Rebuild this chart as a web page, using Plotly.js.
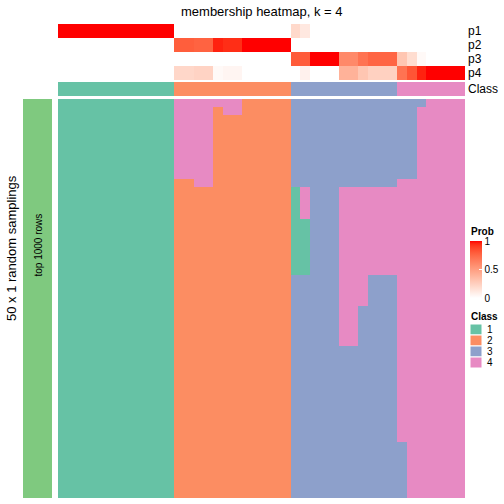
<!DOCTYPE html>
<html><head><meta charset="utf-8">
<script src="https://cdn.plot.ly/plotly-3.0.1.min.js"></script>
<style>html,body{margin:0;padding:0;background:#fff}#chart{width:504px;height:504px}</style>
</head><body><div id="chart"></div>
<script>
// ---------------- data ----------------
const title = 'membership heatmap, k = 4';
const rowTitle = '50 x 1 random samplings';
const rowGroup = 'top 1000 rows';
const probNames = ['p1', 'p2', 'p3', 'p4'];
const classLabels = ['1', '2', '3', '4'];
// per-sample membership probabilities (42 samples)
const p1 = [1,1,1,1,1,1,1,1,1,1,1,1, 0,0,0,0,0,0,0,0,0,0,0,0, 0.2,0.12,0,0,0,0,0,0,0,0,0, 0,0,0,0,0,0,0];
const p2 = [0,0,0,0,0,0,0,0,0,0,0,0, 0.79,0.79,0.77,0.77,0.96,0.94,0.94,1,1,1,1,1, 0,0,0,0,0,0,0,0,0,0,0, 0,0,0,0,0,0,0];
const p3 = [0,0,0,0,0,0,0,0,0,0,0,0, 0,0,0,0,0,0,0,0,0,0,0,0, 0.8,0.8,1,1,1,0.6,0.6,0.7,0.76,0.76,0.76, 0.3,0.18,0.03,0,0,0,0];
const p4 = [0,0,0,0,0,0,0,0,0,0,0,0, 0.21,0.21,0.23,0.23,0.03,0.05,0.05,0,0,0,0,0, 0,0.07,0,0,0,0.4,0.4,0.3,0.24,0.24,0.24, 0.7,0.82,0.96,1,1,1,1];
const sampleClass = [1,1,1,1,1,1,1,1,1,1,1,1, 2,2,2,2,2,2,2,2,2,2,2,2, 3,3,3,3,3,3,3,3,3,3,3, 4,4,4,4,4,4,4];
// class assigned in each of the 50 random samplings (rows) for each sample (columns)
const samplings = [
 '111111111111444444422222333333333333334444',
 '111111111111444424422222333333333333344444',
 '111111111111444422222222333333333333344444',
 '111111111111444422222222333333333333344444',
 '111111111111444422222222333333333333344444',
 '111111111111444422222222333333333333344444',
 '111111111111444422222222333333333333344444',
 '111111111111444422222222333333333333344444',
 '111111111111444422222222333333333333344444',
 '111111111111444422222222333333333333344444',
 '111111111111224422222222333333333334444444',
 '111111111111222222222222143334444444444444',
 '111111111111222222222222143334444444444444',
 '111111111111222222222222143334444444444444',
 '111111111111222222222222143334444444444444',
 '111111111111222222222222113334444444444444',
 '111111111111222222222222113334444444444444',
 '111111111111222222222222113334444444444444',
 '111111111111222222222222113334444444444444',
 '111111111111222222222222113334444444444444',
 '111111111111222222222222113334444444444444',
 '111111111111222222222222113334444444444444',
 '111111111111222222222222333334443334444444',
 '111111111111222222222222333334443334444444',
 '111111111111222222222222333334443334444444',
 '111111111111222222222222333334443334444444',
 '111111111111222222222222333334433334444444',
 '111111111111222222222222333334433334444444',
 '111111111111222222222222333334433334444444',
 '111111111111222222222222333334433334444444',
 '111111111111222222222222333334433334444444',
 '111111111111222222222222333333333334444444',
 '111111111111222222222222333333333334444444',
 '111111111111222222222222333333333334444444',
 '111111111111222222222222333333333334444444',
 '111111111111222222222222333333333334444444',
 '111111111111222222222222333333333334444444',
 '111111111111222222222222333333333334444444',
 '111111111111222222222222333333333334444444',
 '111111111111222222222222333333333334444444',
 '111111111111222222222222333333333334444444',
 '111111111111222222222222333333333334444444',
 '111111111111222222222222333333333334444444',
 '111111111111222222222222333333333333444444',
 '111111111111222222222222333333333333444444',
 '111111111111222222222222333333333333444444',
 '111111111111222222222222333333333333444444',
 '111111111111222222222222333333333333444444',
 '111111111111222222222222333333333333444444',
 '111111111111222222222222333333333333444444'
];

// ---------------- styling ----------------
const W = 504, H = 504;
const px = v => v / W, py = v => 1 - v / H;
const FONT = 'Liberation Sans, Arial, Helvetica, sans-serif';
const classColors = ['#66C2A5', '#FC8D62', '#8DA0CB', '#E78AC3'];
const groupColor = '#7FC97F';

// white -> red interpolated in CIE Lab (as ComplexHeatmap's colorRamp2)
function labToRgb(L, a, b) {
  const fy = (L + 16) / 116, fx = fy + a / 500, fz = fy - b / 200;
  const inv = t => t > 0.206893 ? t * t * t : (t - 16 / 116) / 7.787;
  const X = 0.95047 * inv(fx), Y = 1.0 * inv(fy), Z = 1.08883 * inv(fz);
  let r = 3.2406 * X - 1.5372 * Y - 0.4986 * Z;
  let g = -0.9689 * X + 1.8758 * Y + 0.0415 * Z;
  let bb = 0.0557 * X - 0.2040 * Y + 1.0570 * Z;
  const gam = c => { c = Math.min(1, Math.max(0, c)); return c <= 0.0031308 ? 12.92 * c : 1.055 * Math.pow(c, 1 / 2.4) - 0.055; };
  return 'rgb(' + [r, g, bb].map(c => Math.round(255 * gam(c))).join(',') + ')';
}
const redLab = [53.24, 80.09, 67.20];
const probScale = [];
for (let i = 0; i <= 20; i++) {
  const t = i / 20;
  probScale.push([t, labToRgb(100 + (redLab[0] - 100) * t, redLab[1] * t, redLab[2] * t)]);
}
const classScale = [];
classColors.forEach((c, i) => { classScale.push([i / 4, c]); classScale.push([(i + 1) / 4, c]); });

const nCol = sampleClass.length;
const cols = sampleClass.map((_, i) => i);
const mainZ = samplings.map(s => s.split('').map(Number));
const rows = mainZ.map((_, i) => i);

const traces = [
  { type: 'heatmap', x: cols, y: [0, 1, 2, 3], z: [p1, p2, p3, p4], xaxis: 'x', yaxis: 'y2',
    zmin: 0, zmax: 1, colorscale: probScale, hoverinfo: 'skip',
    colorbar: { x: px(470), xanchor: 'left', y: py(298), yanchor: 'bottom', len: 57, lenmode: 'pixels',
      thickness: 12, thicknessmode: 'pixels', outlinewidth: 0, xpad: 0, ypad: 0,
      tickvals: [0, 0.5, 1], ticktext: ['0', '0.5', '1'], ticks: 'inside', ticklen: 3, tickcolor: '#fff',
      tickfont: { size: 10, color: '#000', family: FONT } } },
  { type: 'heatmap', x: cols, y: [0], z: [sampleClass], xaxis: 'x', yaxis: 'y3',
    zmin: 1, zmax: 4, colorscale: classScale, showscale: false, hoverinfo: 'skip' },
  { type: 'heatmap', x: cols, y: rows, z: mainZ, xaxis: 'x', yaxis: 'y',
    zmin: 1, zmax: 4, colorscale: classScale, showscale: false, hoverinfo: 'skip' },
  { type: 'heatmap', x: [0], y: rows, z: rows.map(() => [1]), xaxis: 'x2', yaxis: 'y',
    zmin: 0, zmax: 1, colorscale: [[0, groupColor], [1, groupColor]], showscale: false, hoverinfo: 'skip' }
];

const hid = { visible: false, showgrid: false, zeroline: false, fixedrange: true };
const annotations = [
  { text: title, x: px(262), y: py(11), xref: 'paper', yref: 'paper', xanchor: 'center', yanchor: 'middle', showarrow: false, font: { size: 13, color: '#000', family: FONT } },
  { text: rowTitle, x: px(11), y: py(248), xref: 'paper', yref: 'paper', xanchor: 'center', yanchor: 'middle', textangle: -90, showarrow: false, font: { size: 13, color: '#000', family: FONT } },
  { text: rowGroup, x: px(37.5), y: py(245), xref: 'paper', yref: 'paper', xanchor: 'center', yanchor: 'middle', textangle: -90, showarrow: false, font: { size: 10, color: '#000', family: FONT } },
  { text: 'Class', x: px(466), y: 0, xref: 'paper', yref: 'y3', xanchor: 'left', yanchor: 'middle', showarrow: false, font: { size: 12, color: '#000', family: FONT } },
  { text: '<b>Prob</b>', x: px(469), y: py(232), xref: 'paper', yref: 'paper', xanchor: 'left', yanchor: 'middle', showarrow: false, font: { size: 10, color: '#000', family: FONT } },
  { text: '<b>Class</b>', x: px(469), y: py(316), xref: 'paper', yref: 'paper', xanchor: 'left', yanchor: 'middle', showarrow: false, font: { size: 10, color: '#000', family: FONT } }
];
probNames.forEach((n, i) => annotations.push({ text: n, x: px(466), y: i, xref: 'paper', yref: 'y2', xanchor: 'left', yanchor: 'middle', showarrow: false, font: { size: 12, color: '#000', family: FONT } }));
const shapes = [];
classLabels.forEach((l, i) => {
  const top = 324 + 11 * i;
  shapes.push({ type: 'rect', xref: 'paper', yref: 'paper', x0: px(470), x1: px(482), y0: py(top), y1: py(top + 11), fillcolor: classColors[i], line: { color: '#fff', width: 1 } });
  annotations.push({ text: l, x: px(485), y: py(top + 5.5), xref: 'paper', yref: 'paper', xanchor: 'left', yanchor: 'middle', showarrow: false, font: { size: 10, color: '#000', family: FONT } });
});

const layout = {
  width: W, height: H, margin: { l: 0, r: 0, t: 0, b: 0, pad: 0 },
  paper_bgcolor: '#fff', plot_bgcolor: '#fff', showlegend: false,
  font: { family: FONT, color: '#000' },
  xaxis: Object.assign({ domain: [px(58), px(465)], range: [-0.5, nCol - 0.5] }, hid),
  xaxis2: Object.assign({ domain: [px(23), px(52)], range: [-0.5, 0.5], anchor: 'y' }, hid),
  yaxis: Object.assign({ domain: [py(498), py(99)], range: [rows.length - 0.5, -0.5], anchor: 'x' }, hid),
  yaxis2: Object.assign({ domain: [py(80), py(24)], range: [3.5, -0.5], anchor: 'x' }, hid),
  yaxis3: Object.assign({ domain: [py(96), py(82)], range: [0.5, -0.5], anchor: 'x' }, hid),
  annotations: annotations, shapes: shapes
};
Plotly.newPlot('chart', traces, layout, { staticPlot: true, displayModeBar: false });
</script></body></html>
